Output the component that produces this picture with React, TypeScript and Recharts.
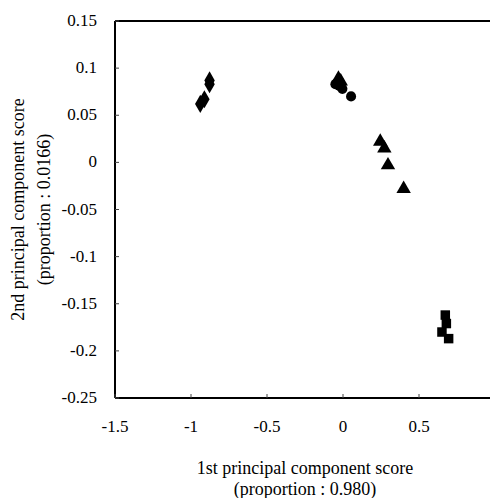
import { ReferenceLine, Scatter, ScatterChart, Symbols, XAxis, YAxis } from "recharts";

const diamonds = [
  { x: -0.939, y: 0.062 },
  { x: -0.912, y: 0.067 },
  { x: -0.878, y: 0.087 },
  { x: -0.878, y: 0.083 },
];

const circles = [
  { x: -0.05, y: 0.083 },
  { x: -0.024, y: 0.081 },
  { x: -0.004, y: 0.078 },
  { x: 0.053, y: 0.07 },
];

const triangles = [
  { x: -0.03, y: 0.089 },
  { x: -0.015, y: 0.086 },
  { x: 0.245, y: 0.022 },
  { x: 0.272, y: 0.015 },
  { x: 0.296, y: -0.003 },
  { x: 0.399, y: -0.028 },
];

const squares = [
  { x: 0.673, y: -0.162 },
  { x: 0.68, y: -0.171 },
  { x: 0.651, y: -0.18 },
  { x: 0.695, y: -0.187 },
];

const xTicks = [-1.5, -1, -0.5, 0, 0.5];
const yTicks = [0.15, 0.1, 0.05, 0, -0.05, -0.1, -0.15, -0.2, -0.25];

const xTitle = ["1st principal component score", "(proportion : 0.980)"];
const yTitle = ["2nd principal component score", "(proportion : 0.0166)"];

const FONT = "Liberation Serif";
const PLOT_LEFT = 115;
const PLOT_TOP = 21;
const PLOT_BOTTOM = 398;

const XTick = (props: any) => {
  const { x, payload } = props;
  return (
    <g>
      <line x1={x} x2={x} y1={PLOT_BOTTOM} y2={PLOT_BOTTOM - 4} stroke="#444" />
      <text x={x} y={PLOT_BOTTOM + 34} textAnchor="middle" fontSize={17} style={{ fontFamily: FONT }} fill="#000">
        {payload.value}
      </text>
    </g>
  );
};

const YTick = (props: any) => {
  const { y, payload } = props;
  return (
    <g>
      <line x1={PLOT_LEFT} x2={PLOT_LEFT + 4} y1={y} y2={y} stroke="#444" />
      <text x={97} y={y + 5} textAnchor="end" fontSize={17} style={{ fontFamily: FONT }} fill="#000">
        {payload.value}
      </text>
    </g>
  );
};

const marker = (type: any, size: number) => (p: any) => (
  <Symbols cx={p.cx} cy={p.cy} type={type} size={size} fill="#000" />
);

const Titles = () => {
  const cy = (PLOT_TOP + PLOT_BOTTOM) / 2;
  const t = { fontFamily: FONT };
  return (
    <g fontSize={18} fill="#000" textAnchor="middle">
      <text x={305} y={474} style={t}>{xTitle[0]}</text>
      <text x={305} y={495} style={t}>{xTitle[1]}</text>
      <text x={24} y={cy} style={t} transform={`rotate(-90, 24, ${cy})`}>{yTitle[0]}</text>
      <text x={50} y={cy} style={t} transform={`rotate(-90, 50, ${cy})`}>{yTitle[1]}</text>
    </g>
  );
};

export default function App() {
  return (
    <div
      style={{
        position: "absolute",
        left: 0,
        top: 0,
        width: 490,
        height: 498,
        overflow: "hidden",
        background: "#fff",
      }}
    >
      <ScatterChart
        width={500}
        height={498}
        margin={{ top: PLOT_TOP, right: 5, left: 0, bottom: 40 }}
      >
        <XAxis
          type="number"
          dataKey="x"
          domain={[-1.5, 1]}
          ticks={xTicks}
          height={60}
          tick={<XTick />}
          tickLine={false}
          axisLine={{ stroke: "#000", strokeWidth: 2 }}
          allowDataOverflow
        />
        <YAxis
          type="number"
          dataKey="y"
          domain={[-0.25, 0.15]}
          ticks={yTicks}
          width={PLOT_LEFT}
          tick={<YTick />}
          tickLine={false}
          axisLine={{ stroke: "#000", strokeWidth: 2 }}
          allowDataOverflow
        />
        <ReferenceLine y={0.15} stroke="#000" strokeWidth={2} />
        <Scatter data={diamonds} shape={marker("diamond", 95)} isAnimationActive={false} />
        <Scatter data={circles} shape={marker("circle", 80)} isAnimationActive={false} />
        <Scatter data={triangles} shape={marker("triangle", 90)} isAnimationActive={false} />
        <Scatter data={squares} shape={marker("square", 90)} isAnimationActive={false} />
        <Titles />
      </ScatterChart>
    </div>
  );
}
